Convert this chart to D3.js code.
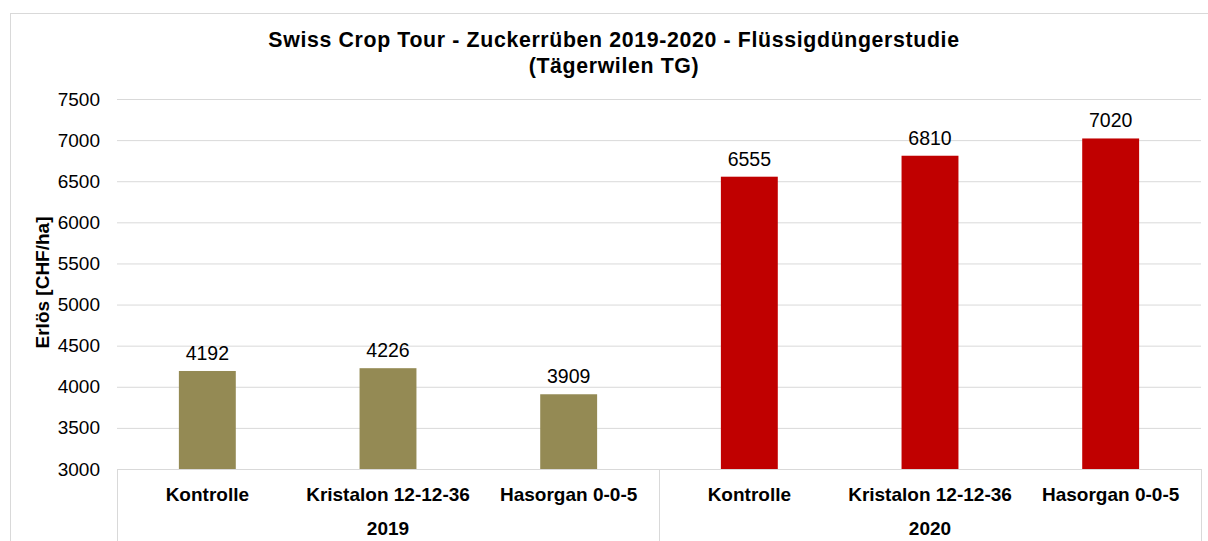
<!DOCTYPE html>
<html>
<head>
<meta charset="utf-8">
<script src="https://cdn.jsdelivr.net/npm/d3@7"></script>
<style>
  body { margin: 0; background: #fff; }
  svg text { font-family: "Liberation Sans", Arial, sans-serif; }
</style>
</head>
<body>
<div id="chart-area"></div>
<script>
// data
var products = ["Kontrolle", "Kristalon 12-12-36", "Hasorgan 0-0-5"];
var years = ["2019", "2020"];
var values2019 = [4192, 4226, 3909];
var values2020 = [6555, 6810, 7020];
var yTicks = [3000, 3500, 4000, 4500, 5000, 5500, 6000, 6500, 7000, 7500];
var yearColors = { "2019": "#948A54", "2020": "#C00000" };

var rows = [];
years.forEach(function(yr, j) {
    var vals = j == 0 ? values2019 : values2020;
    products.forEach(function(p, i) {
        rows.push({ key: yr + "|" + p, year: yr, product: p, value: vals[i] });
    });
});

var W = 1208, H = 541;
var margin = { left: 117, right: 7, top: 99, bottom: 72 };
var ChartWidth = W - margin.left - margin.right;
var ChartHeight = H - margin.top - margin.bottom;

var svg = d3.select("#chart-area")
    .append("svg")
        .attr("width", W)
        .attr("height", H);

// outer chart border
svg.append("rect")
    .attr("x", 10.5).attr("y", 13.5)
    .attr("width", W + 10).attr("height", H + 10)
    .attr("fill", "none")
    .attr("stroke", "#d9d9d9");

// title
svg.append("text")
    .attr("x", 614).attr("y", 46.5)
    .attr("text-anchor", "middle")
    .attr("font-size", "21.3px").attr("font-weight", "bold")
    .attr("letter-spacing", "0.65px")
    .text("Swiss Crop Tour - Zuckerrüben 2019-2020 - Flüssigdüngerstudie");
svg.append("text")
    .attr("x", 614).attr("y", 72.5)
    .attr("text-anchor", "middle")
    .attr("font-size", "21.3px").attr("font-weight", "bold")
    .attr("letter-spacing", "0.65px")
    .text("(Tägerwilen TG)");

var g = svg.append("g")
    .attr("transform", "translate(" + margin.left + ", " + margin.top + ")");

// scales
var x = d3.scaleBand()
    .domain(rows.map(function(d) { return d.key; }))
    .range([0, ChartWidth])
    .paddingInner(0.685)
    .paddingOuter(0.3425);
var y = d3.scaleLinear()
    .domain([3000, 7500])
    .range([ChartHeight, 0]);

// gridlines
var yAxisCall = d3.axisLeft(y)
    .tickValues(yTicks)
    .tickSize(-ChartWidth)
    .tickPadding(17)
    .tickFormat(function(d) { return d; });
var yAxis = g.append("g").attr("class", "LeftAxis").call(yAxisCall);
yAxis.select(".domain").remove();
yAxis.selectAll("line").attr("stroke", "#d9d9d9");
yAxis.selectAll("text")
    .attr("font-size", "19px")
    .attr("fill", "#000")
    .style("font-family", "'Liberation Sans', Arial, sans-serif");

// y label
g.append("text")
    .attr("transform", "rotate(-90)")
    .attr("x", -(282.5 - margin.top))
    .attr("y", -68)
    .attr("text-anchor", "middle")
    .attr("font-size", "19px")
    .attr("font-weight", "bold")
    .text("Erlös [CHF/ha]");

// bars
g.selectAll("rect.bar")
    .data(rows)
    .enter()
    .append("rect")
    .attr("class", "bar")
    .attr("x", function(d) { return x(d.key); })
    .attr("width", x.bandwidth())
    .attr("y", function(d) { return y(d.value); })
    .attr("height", function(d) { return ChartHeight - y(d.value); })
    .attr("fill", function(d) { return yearColors[d.year]; });

// value labels
g.selectAll("text.val")
    .data(rows)
    .enter()
    .append("text")
    .attr("class", "val")
    .attr("x", function(d) { return x(d.key) + x.bandwidth() / 2; })
    .attr("y", function(d) { return y(d.value) - 11; })
    .attr("text-anchor", "middle")
    .attr("font-size", "19.5px")
    .text(function(d) { return d.value; });

// category axis (two levels)
var step = x.step();
g.append("line")
    .attr("x1", 0).attr("x2", ChartWidth)
    .attr("y1", ChartHeight + 0.5).attr("y2", ChartHeight + 0.5)
    .attr("stroke", "#d9d9d9");

g.selectAll("text.prod")
    .data(rows)
    .enter()
    .append("text")
    .attr("class", "prod")
    .attr("x", function(d) { return x(d.key) + x.bandwidth() / 2; })
    .attr("y", ChartHeight + 32)
    .attr("text-anchor", "middle")
    .attr("font-size", "19px")
    .attr("font-weight", "bold")
    .text(function(d) { return d.product; });

years.forEach(function(yr, j) {
    var first = x(yr + "|" + products[0]) - (step - x.bandwidth()) / 2;
    var last = first + step * products.length;
    g.append("text")
        .attr("x", (first + last) / 2)
        .attr("y", ChartHeight + 66)
        .attr("text-anchor", "middle")
        .attr("font-size", "19px")
        .attr("font-weight", "bold")
        .text(yr);
    [first, last].forEach(function(px) {
        g.append("line")
            .attr("x1", Math.round(px) + 0.5).attr("x2", Math.round(px) + 0.5)
            .attr("y1", ChartHeight).attr("y2", H)
            .attr("stroke", "#d9d9d9");
    });
});
</script>
</body>
</html>
